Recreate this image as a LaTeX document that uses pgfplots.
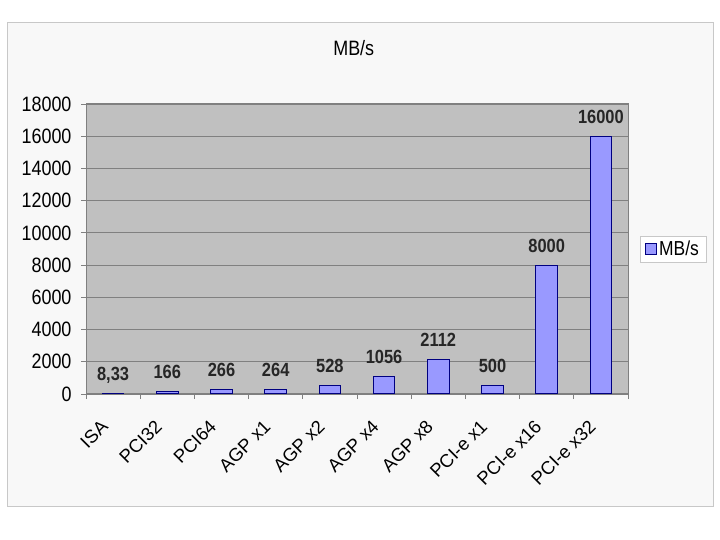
\documentclass[border=0pt]{standalone}
\usepackage{fontspec}
\setmainfont{Liberation Sans}
\usepackage{graphicx}
\usepackage{pgfplots}
\pgfplotsset{compat=1.18}
\usepackage{pgfplotstable}
\definecolor{plotbg}{HTML}{C0C0C0}
\definecolor{barfill}{HTML}{9999FF}
\definecolor{bardraw}{HTML}{000080}
\definecolor{chartbg}{HTML}{F8F8F8}
\definecolor{chartborder}{HTML}{C8C8C8}
\definecolor{gridc}{HTML}{808080}
\newcommand{\vs}[1]{\scalebox{1}[1.16]{#1}}
\pgfplotstableread[col sep=semicolon]{
x;y;label
0;8.33;8,33
1;166;166
2;266;266
3;264;264
4;528;528
5;1056;1056
6;2112;2112
7;500;500
8;8000;8000
9;16000;16000
}\datatable
\begin{document}
\begin{tikzpicture}
\fill[white] (0bp,0bp) rectangle (720bp,540bp);
\filldraw[fill=chartbg, draw=chartborder, line width=1bp] (7bp,33bp) rectangle (713bp,517bp);
\begin{axis}[
  at={(113.1bp,146bp)}, anchor=origin,
  scale only axis, width=542bp, height=290bp,
  xmin=-0.5, xmax=9.5, ymin=0, ymax=18000,
  ytick={0,2000,...,18000},
  xtick={0,...,9},
  xticklabels={ISA,PCI32,PCI64,AGP x1,AGP x2,AGP x4,AGP x8,PCI-e x1,PCI-e x16,PCI-e x32},
  minor xtick={-0.5,0.5,...,9.5},
  major x tick style={draw=none},
  tick align=outside, tick pos=left,
  major tick length=5bp, minor tick length=5bp,
  ymajorgrids, grid style={gridc, line width=0.8bp},
  axis background/.style={fill=plotbg},
  axis line style={gridc, line width=1bp},
  every tick/.style={gridc, line width=0.8bp},
  scaled y ticks=false,
  yticklabel={\vs{\pgfmathprintnumber[1000 sep={}, assume math mode=true]{\tick}}},
  yticklabel style={font=\fontsize{18}{20}\selectfont, xshift=-6bp},
  xticklabel style={xshift=-4bp, yshift=-29bp, rotate=45, anchor=base east, inner sep=0pt, font=\fontsize{18.5}{20}\selectfont},
  ybar, bar width=0.4,
  point meta=explicit symbolic,
  nodes near coords={\vs{\pgfplotspointmeta}},
  nodes near coords style={font=\bfseries\fontsize{16.5}{19}\selectfont, anchor=base, yshift=13bp, text=black!85},
  title={\vs{MB/s}},
  title style={at={(axis description cs:0.494,1.172)}, anchor=center, font=\fontsize{18}{20}\selectfont},
  legend entries={\vs{MB/s}},
  legend style={at={(axis description cs:1.022,0.545)}, anchor=north west, draw=chartborder, fill=white, font=\fontsize{17.5}{19}\selectfont, inner xsep=5bp, inner ysep=3bp},
  legend image code/.code={\draw[#1] (0bp,-5.5bp) rectangle (11bp,5.5bp);},
]
\addplot[fill=barfill, draw=bardraw, line width=1bp] table[x=x, y=y, meta=label] {\datatable};
\end{axis}
\end{tikzpicture}
\end{document}
